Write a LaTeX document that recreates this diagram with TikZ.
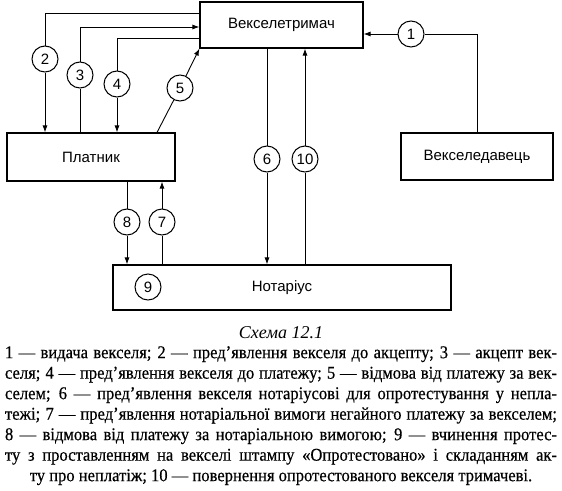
\documentclass[tikz,border=0pt]{standalone}
\usepackage{fontspec}
\setmainfont{Liberation Serif}
\setsansfont{Liberation Sans}
\newfontfamily\legendfont[FakeStretch=0.92, FakeBold=0.4]{Liberation Serif}
\usetikzlibrary{arrows.meta, positioning}

\tikzset{
  party/.style={draw, line width=1.1pt, inner sep=0pt, font=\sffamily\fontsize{15}{18}\selectfont},
  numcirc/.style={circle, draw, line width=1pt, minimum size=26pt, inner sep=0pt, font=\sffamily\fontsize{15}{17}\selectfont},
  flow/.style={line width=0.9pt},
  arr/.style={flow, -{Latex[length=7pt,width=5pt]}}
}

\begin{document}
\begin{tikzpicture}[x=1pt, y=-1pt]
  \useasboundingbox (0,0) rectangle (562,490);
  % parties
  \node[party, minimum width=163pt, minimum height=46pt] (holder) at (281.5,25) {Векселетримач};
  \node[party, minimum width=168pt, minimum height=48pt] (payer) at (91,157) {Платник};
  \node[party, minimum width=152pt, minimum height=47pt] (drawer) at (477,156.5) {Векселедавець};
  \node[party, minimum width=338pt, minimum height=45pt] (notary) at (282,287.5) {Нотаріус};
  % step numbers
  \node[numcirc] (n1) at (411,34) {1};
  \node[numcirc] (n2) at (45,59) {2};
  \node[numcirc] (n3) at (80,75) {3};
  \node[numcirc] (n4) at (117,84) {4};
  \node[numcirc] (n5) at (180,88) {5};
  \node[numcirc] (n6) at (267,159) {6};
  \node[numcirc] (n7) at (162,222) {7};
  \node[numcirc] (n8) at (127,222) {8};
  \node[numcirc] (n9) at (148,287) {9};
  \node[numcirc] (n10) at (305,159) {10};
  % 1
  \draw[flow] (drawer.north) |- (n1.east);
  \draw[arr] (n1.west) -- (n1.west -| holder.east);
  % 2
  \draw[flow] ([yshift=12pt]holder.west) -| (n2.north);
  \draw[arr] (n2.south) -- (n2 |- payer.north);
  % 3
  \draw[flow] (n3 |- payer.north) -- (n3.south);
  \draw[arr] (n3.north) |- ([yshift=-2pt]holder.west);
  % 4
  \draw[flow] ([yshift=-13pt]holder.west) -| (n4.north);
  \draw[arr] (n4.south) -- (n4 |- payer.north);
  % 5
  \draw[flow] ([xshift=66pt]payer.north) -- (n5);
  \draw[arr] (n5) -- (holder.south west);
  % 6 and 10
  \draw[flow] (n6 |- holder.south) -- (n6.north);
  \draw[arr] (n6.south) -- (n6 |- notary.north);
  \draw[flow] (n10 |- notary.north) -- (n10.south);
  \draw[arr] (n10.north) -- (n10 |- holder.south);
  % 8 and 7
  \draw[flow] (n8 |- payer.south) -- (n8.north);
  \draw[arr] (n8.south) -- (n8 |- notary.north);
  \draw[flow] (n7 |- notary.north) -- (n7.south);
  \draw[arr] (n7.north) -- (n7 |- payer.south);
  % caption and legend
  \node[font=\itshape\fontsize{18}{20}\selectfont] (caption) at (281,333) {Схема 12.1};
  \node[anchor=north, inner sep=0pt, align=center, font=\legendfont\fontsize{18}{20.5}\selectfont] (legend) at (281,346) {%
    \makebox[552pt][s]{1 — видача векселя; 2 — пред’явлення векселя до акцепту; 3 — акцепт век-}\\
    \makebox[552pt][s]{селя; 4 — пред’явлення векселя до платежу; 5 — відмова від платежу за век-}\\
    \makebox[552pt][s]{селем; 6 — пред’явлення векселя нотаріусові для опротестування у непла-}\\
    \makebox[552pt][s]{тежі; 7 — пред’явлення нотаріальної вимоги негайного платежу за векселем;}\\
    \makebox[552pt][s]{8 — відмова від платежу за нотаріальною вимогою; 9 — вчинення протес-}\\
    \makebox[552pt][s]{ту з проставленням на векселі штампу «Опротестовано» і складанням ак-}\\
    ту про неплатіж; 10 — повернення опротестованого векселя тримачеві.};
\end{tikzpicture}
\end{document}
